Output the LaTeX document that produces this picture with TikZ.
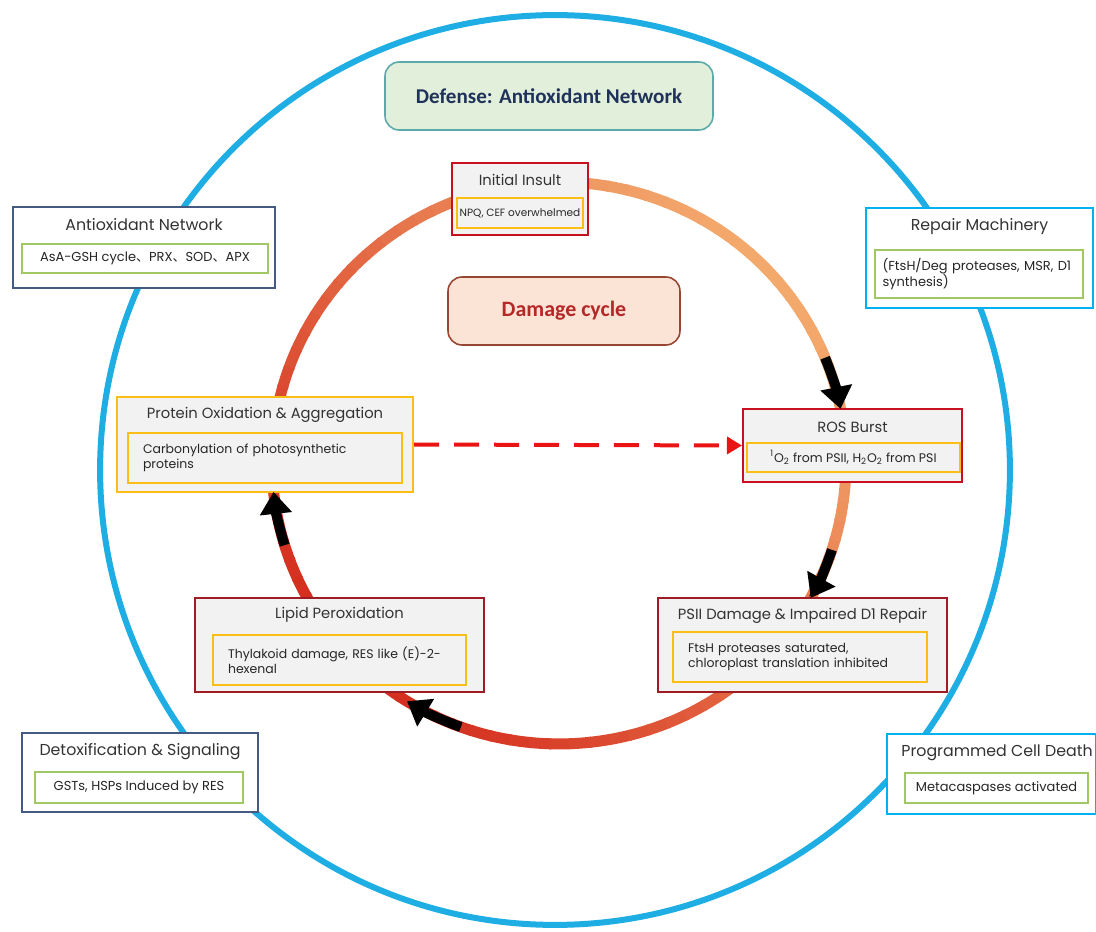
\documentclass[tikz,border=0pt]{standalone}
\usepackage{fontspec}
\setmainfont{Poppins}
\newfontfamily\cjk{Noto Sans CJK SC}
\newfontfamily\headfont{Carlito}
\usetikzlibrary{arrows.meta,positioning}

\definecolor{ringblue}{RGB}{30,174,228}
\definecolor{ringlight}{RGB}{243,168,108}
\definecolor{ringred}{RGB}{212,45,30}
\definecolor{cellred}{RGB}{200,16,30}
\definecolor{celldark}{RGB}{160,28,36}
\definecolor{cellgray}{RGB}{242,242,242}
\definecolor{subgold}{RGB}{250,190,20}
\definecolor{leaf}{RGB}{160,200,100}
\definecolor{slate}{RGB}{68,90,130}
\definecolor{sky}{RGB}{0,176,240}
\definecolor{mint}{RGB}{226,239,218}
\definecolor{bannerline}{RGB}{90,170,170}
\definecolor{navy}{RGB}{31,50,90}
\definecolor{blush}{RGB}{251,227,214}
\definecolor{damageline}{RGB}{150,70,50}
\definecolor{damagetext}{RGB}{180,40,40}
\definecolor{dashred}{RGB}{235,20,20}

\begin{document}
\begin{tikzpicture}[
  x=0.02cm, y=0.02cm,
  font=\fontsize{8.4}{10}\selectfont,
  cell/.style={draw, line width=1.2pt, fill=cellgray},
  side/.style={draw, line width=1.3pt, fill=white},
  head/.style={text=black!80},
  sidehead/.style={text=black!80, font=\fontsize{9}{11}\selectfont},
  sub/.style={draw=subgold, line width=1.2pt, fill=cellgray, font=\fontsize{7.1}{8.6}\selectfont, text=black!85, inner sep=0pt},
  leafsub/.style={draw=leaf, line width=1.2pt, fill=white, font=\fontsize{7.4}{9}\selectfont, text=black!85, inner sep=0pt},
  banner/.style={draw, rounded corners=8pt, line width=0.9pt},
  ring/.style={line width=0.22cm},
  cyclearrow/.style={line width=0.2cm, black, -{Triangle[width=0.62cm,length=0.44cm]}},
  dasharrow/.style={line width=0.08cm, draw=dashred, dash pattern=on 0.5cm off 0.3cm, -{Triangle[width=0.34cm,length=0.3cm]}}
]
\useasboundingbox (0,0) rectangle (1096,931);
\coordinate (outerc) at (555,461);
\coordinate (ringc) at (559,468);

% Outer defense ring
\draw[ringblue, line width=0.12cm] (outerc) circle[radius=9.1cm];

% Damage ring, light orange to red
\foreach \a in {0,4,...,356}{
  \pgfmathtruncatemacro\mixval{50*(1-cos(\a-40))}
  \draw[ring, draw=ringred!\mixval!ringlight] ([shift={(\a:5.74cm and 5.62cm)}]ringc) arc[start angle=\a, end angle=\a+4.5, x radius=5.74cm, y radius=5.62cm];
}

% Banners
\node[banner, draw=bannerline, fill=mint, text=navy, font=\headfont\bfseries\fontsize{12}{14}\selectfont, minimum width=6.56cm, minimum height=1.36cm] (defense) at (549,835) {Defense: Antioxidant Network};
\node[banner, draw=damageline, fill=blush, text=damagetext, font=\headfont\bfseries\fontsize{12.5}{14}\selectfont, minimum width=4.64cm, minimum height=1.36cm] (damage) at (564,620) {Damage cycle};

% Damage cycle steps
\node[cell, draw=cellred, minimum width=2.72cm, minimum height=1.44cm] (insult) at (520,732) {};
\node[head] (insulthead) at (520,751) {Initial Insult};
\node[sub, font=\fontsize{6}{8}\selectfont, minimum width=2.52cm, minimum height=0.6cm] (insultsub) at (520,718) {NPQ, CEF overwhelmed};

\node[cell, draw=cellred, minimum width=4.38cm, minimum height=1.46cm] (ros) at (852.5,485.5) {};
\node[head] (roshead) at (852.5,504) {ROS Burst};
\node[sub, minimum width=4.26cm, minimum height=0.58cm] (rossub) at (853.5,473.5) {\textsuperscript{1}O\textsubscript{2} from PSII, H\textsubscript{2}O\textsubscript{2} from PSI};

\node[cell, draw=celldark, minimum width=5.78cm, minimum height=1.88cm] (psii) at (802.5,286) {};
\node[head] (psiihead) at (802.5,315) {PSII Damage \& Impaired D1 Repair};
\node[sub, text width=4.48cm, inner xsep=0.3cm, minimum height=1cm, align=left] (psiisub) at (800,274) {FtsH proteases saturated,\\chloroplast translation inhibited};

\node[cell, draw=celldark, minimum width=5.78cm, minimum height=1.88cm] (lipid) at (339.5,286) {};
\node[head] (lipidhead) at (339.5,316) {Lipid Peroxidation};
\node[sub, text width=4.46cm, inner xsep=0.3cm, minimum height=1cm, align=left] (lipidsub) at (339.5,271) {Thylakoid damage, RES like (E)-2-\\hexenal};

\node[cell, draw=subgold, minimum width=5.92cm, minimum height=1.9cm] (protein) at (265,486.5) {};
\node[head] (proteinhead) at (265,516) {Protein Oxidation \& Aggregation};
\node[sub, text width=4.88cm, inner xsep=0.3cm, minimum height=1cm, align=left] (proteinsub) at (265,473) {Carbonylation of photosynthetic\\proteins};

% Side boxes
\node[side, draw=slate, minimum width=5.24cm, minimum height=1.62cm] (antiox) at (144,683.5) {};
\node[sidehead] (antioxhead) at (144,706) {Antioxidant Network};
\node[leafsub, minimum width=4.92cm, minimum height=0.58cm] (antioxsub) at (145,672.5) {AsA-GSH cycle{\cjk 、}PRX{\cjk 、}SOD{\cjk 、}APX};

\node[side, draw=sky, minimum width=4.54cm, minimum height=2cm] (repair) at (979.5,673) {};
\node[sidehead] (repairhead) at (979.5,704) {Repair Machinery};
\node[leafsub, text width=3.86cm, inner xsep=0.15cm, minimum height=0.96cm, align=left] (repairsub) at (979,657) {(FtsH/Deg proteases, MSR, D1\\synthesis)};

\node[side, draw=slate, minimum width=4.72cm, minimum height=1.58cm] (detox) at (140,158.5) {};
\node[sidehead] (detoxhead) at (140,179) {Detoxification \& Signaling};
\node[leafsub, minimum width=4.16cm, minimum height=0.62cm] (detoxsub) at (139,143.5) {GSTs, HSPs Induced by RES};

\node[side, draw=sky, minimum width=4.18cm, minimum height=1.6cm] (pcd) at (991.5,157) {};
\node[sidehead] (pcdhead) at (997,178) {Programmed Cell Death};
\node[leafsub, minimum width=3.66cm, minimum height=0.6cm] (pcdsub) at (996.5,143) {Metacaspases activated};

% Cycle arrows
\draw[cyclearrow] ([shift={(22:5.74cm and 5.62cm)}]ringc) arc[start angle=22, end angle=11.1, x radius=5.74cm, y radius=5.62cm];
\draw[cyclearrow] ([shift={(-18:5.74cm and 5.62cm)}]ringc) arc[start angle=-18, end angle=-28.7, x radius=5.74cm, y radius=5.62cm];
\draw[cyclearrow] ([shift={(250:5.74cm and 5.62cm)}]ringc) arc[start angle=250, end angle=238, x radius=5.74cm, y radius=5.62cm];
\draw[cyclearrow] ([shift={(197:5.74cm and 5.62cm)}]ringc) arc[start angle=197, end angle=185.9, x radius=5.74cm, y radius=5.62cm];

% Shortcut
\draw[dasharrow] (protein.east) -- (ros.west);

\end{tikzpicture}
\end{document}
